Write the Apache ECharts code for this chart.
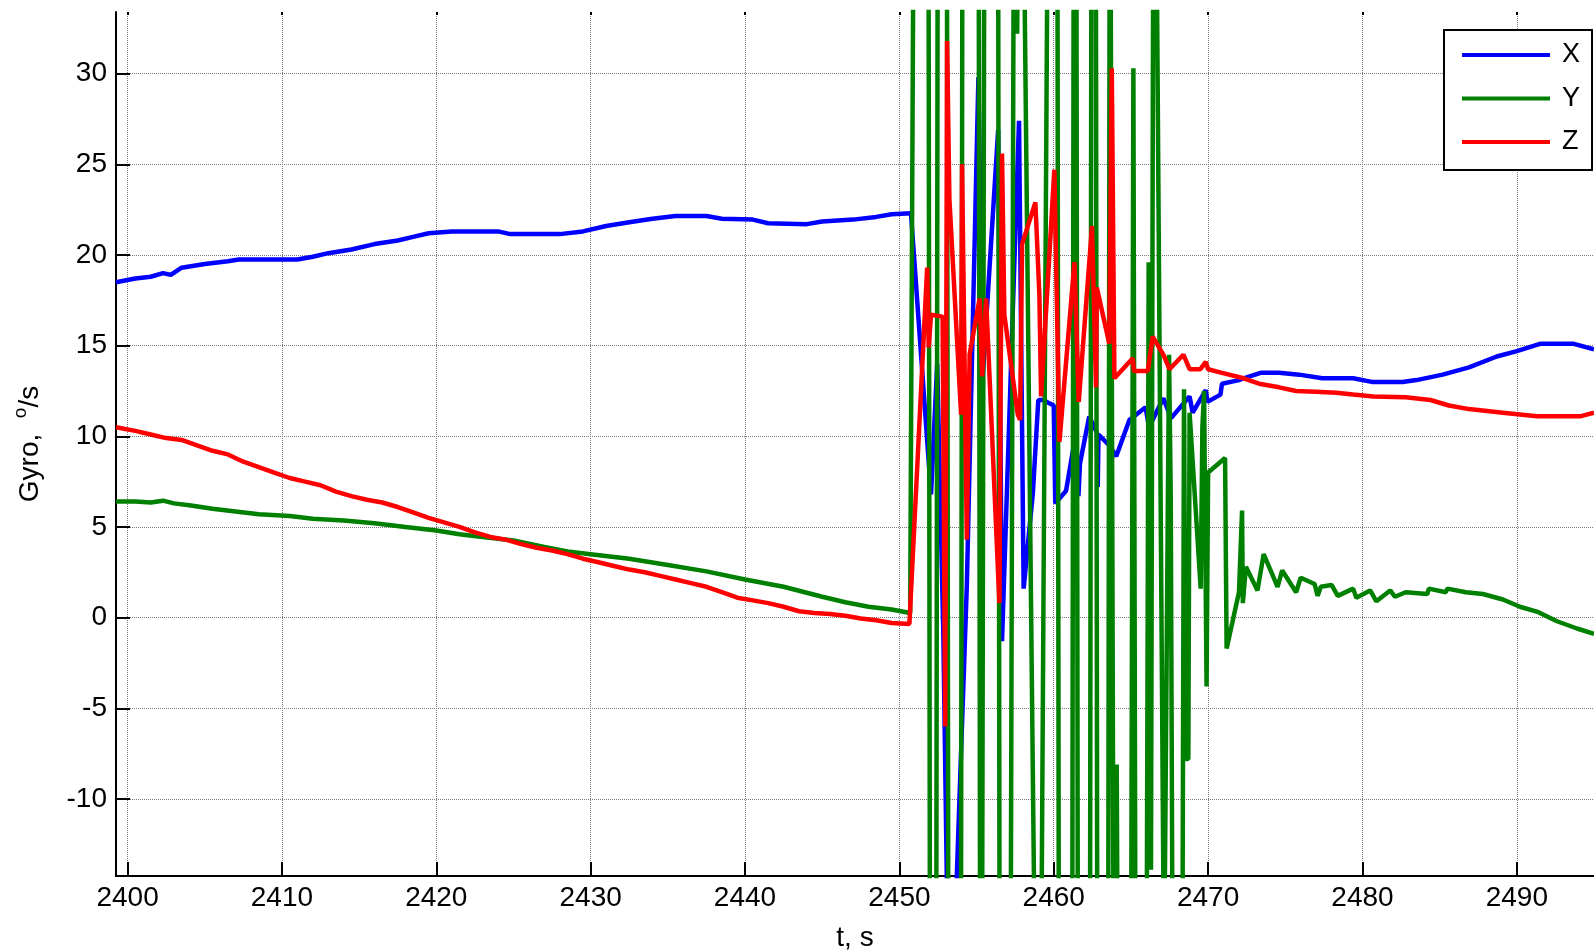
<!DOCTYPE html>
<html>
<head>
<meta charset="utf-8">
<title>Gyro</title>
<script src="https://cdn.jsdelivr.net/npm/echarts@6/dist/echarts.min.js"></script>
<style>
  html, body { margin: 0; padding: 0; background: #fff; }
  #main { width: 1594px; height: 952px; }
</style>
</head>
<body>
<div id="main"></div>
<script>
// tick positions
const xTicks = [2400, 2410, 2420, 2430, 2440, 2450, 2460, 2470, 2480, 2490]
const yTicks = [-10, -5, 0, 5, 10, 15, 20, 25, 30]

// gyro X, [t, deg/s]
const gyroX = [
  [2399.25, 18.5], [2400.5, 18.7], [2401.5, 18.8], [2402.3, 19.0], [2402.8, 18.9], [2403.5, 19.3],
  [2405.0, 19.5], [2406.5, 19.65], [2407.2, 19.75], [2411.0, 19.75], [2412.0, 19.9], [2413.0, 20.1],
  [2414.5, 20.3], [2416.0, 20.6], [2417.5, 20.8], [2418.5, 21.0], [2419.5, 21.2], [2421.0, 21.3],
  [2424.0, 21.3], [2424.8, 21.15], [2428.0, 21.15], [2429.5, 21.3], [2431.0, 21.6], [2432.5, 21.8],
  [2434.0, 22.0], [2435.5, 22.15], [2437.5, 22.15], [2438.5, 22.0], [2440.5, 21.95], [2441.5, 21.75],
  [2444.0, 21.7], [2445.0, 21.85], [2447.0, 21.95], [2448.5, 22.1], [2449.5, 22.25], [2450.75, 22.3],
  [2452.05, 6.8], [2452.45, 14.0], [2452.85, -1.0], [2453.1, -16], [2453.65, -16], [2454.37, 1.8],
  [2455.12, 29.8], [2455.4, 13.3], [2456.4, 26.9], [2456.65, -1.3], [2457.75, 27.4], [2458.05, 1.6],
  [2458.65, 6.9], [2459.0, 12.0], [2459.3, 12.0], [2460.0, 11.7], [2460.1, 6.3], [2460.8, 7.0],
  [2461.3, 9.5], [2461.6, 6.7], [2461.7, 8.5], [2462.3, 11.1], [2462.8, 10.2], [2462.85, 7.2],
  [2462.9, 10.1], [2463.6, 9.5], [2463.7, 8.2], [2463.75, 9.3], [2464.05, 8.9], [2464.9, 10.9],
  [2465.95, 11.6], [2466.17, 10.5], [2467.1, 12.1], [2467.6, 11.0], [2468.8, 12.2], [2469.0, 11.3],
  [2469.85, 12.55], [2469.96, 11.9], [2470.8, 12.3], [2470.9, 12.9], [2472.0, 13.1], [2472.3, 13.2],
  [2473.4, 13.5], [2474.6, 13.5], [2475.9, 13.4], [2477.4, 13.2], [2479.4, 13.2], [2480.6, 13.0],
  [2482.6, 13.0], [2483.5, 13.1], [2485.2, 13.4], [2486.9, 13.8], [2488.7, 14.4], [2490.0, 14.7],
  [2491.5, 15.1], [2493.7, 15.1], [2495.0, 14.8]
]

// gyro Y
const gyroY = [
  [2399.25, 6.4], [2400.5, 6.4], [2401.5, 6.35], [2402.3, 6.45], [2403.0, 6.3], [2404.0, 6.2],
  [2405.5, 6.0], [2407.0, 5.85], [2408.5, 5.7], [2410.5, 5.6], [2412.0, 5.45], [2414.0, 5.35],
  [2416.0, 5.2], [2418.0, 5.0], [2420.0, 4.8], [2421.5, 4.6], [2423.0, 4.45], [2425.0, 4.25],
  [2427.0, 3.9], [2428.5, 3.65], [2430.0, 3.5], [2432.5, 3.25], [2435.0, 2.9], [2437.5, 2.55],
  [2440.0, 2.1], [2442.5, 1.7], [2445.0, 1.15], [2446.5, 0.85], [2448.0, 0.6], [2449.5, 0.45],
  [2450.7, 0.25],
  [2450.98, 50], [2451.87, 50], [2452.03, -50], [2452.34, -50], [2452.5, 50], [2453.06, 50],
  [2453.22, -50], [2453.94, -50], [2454.1, 50], [2455.12, 50], [2455.28, -50], [2455.37, -50],
  [2455.53, 50], [2456.38, 50], [2456.54, -50], [2457.1, -50], [2457.45, 50], [2457.63, 32.2],
  [2457.8, 50], [2457.98, 45], [2458.85, -25], [2459.15, -25], [2459.65, 45], [2460.22, 50],
  [2460.38, -50], [2461.15, -50], [2461.31, 50], [2461.45, 50], [2461.61, -50], [2462.3, -50],
  [2462.46, 50], [2462.71, 50], [2462.87, -50], [2463.48, -50], [2463.64, 50], [2463.76, 50],
  [2463.95, -40], [2464.08, -8.1], [2464.25, -40], [2464.95, -40], [2465.16, 30.3], [2465.35, -40],
  [2465.95, -40], [2466.15, 19.6], [2466.3, -13.9], [2466.48, 50], [2466.6, 45], [2467.15, -20],
  [2467.47, 14.5], [2467.58, 6.7], [2467.75, -30], [2468.3, -30], [2468.44, 12.6], [2468.55, -7.8],
  [2468.72, -7.8], [2468.8, 11.3], [2469.52, 1.6], [2469.63, 10.5], [2469.74, 12.5], [2469.9, -3.8],
  [2470.0, 8.0], [2471.1, 8.8], [2471.2, -1.7], [2472.0, 1.4], [2472.2, 5.9], [2472.25, 0.8],
  [2472.45, 2.8], [2473.2, 1.5], [2473.6, 3.5], [2474.5, 1.7], [2474.8, 2.6], [2475.7, 1.4],
  [2476.0, 2.2], [2476.9, 1.85], [2477.1, 1.2], [2477.3, 1.7], [2478.0, 1.8], [2478.4, 1.2],
  [2479.4, 1.6], [2479.6, 1.1], [2480.5, 1.5], [2480.9, 0.9], [2481.8, 1.5], [2482.1, 1.15],
  [2482.8, 1.4], [2484.2, 1.3], [2484.3, 1.6], [2485.4, 1.4], [2485.5, 1.6], [2486.7, 1.4],
  [2487.8, 1.3], [2489.1, 1.0], [2490.2, 0.6], [2491.4, 0.3], [2492.6, -0.2], [2493.9, -0.6],
  [2495.0, -0.9]
]

// gyro Z
const gyroZ = [
  [2399.25, 10.5], [2400.5, 10.3], [2401.5, 10.1], [2402.5, 9.9], [2403.5, 9.8], [2404.5, 9.5],
  [2405.5, 9.2], [2406.5, 9.0], [2407.5, 8.6], [2408.5, 8.3], [2409.5, 8.0], [2410.5, 7.7],
  [2411.5, 7.5], [2412.5, 7.3], [2413.5, 6.95], [2414.5, 6.7], [2415.5, 6.5], [2416.5, 6.35],
  [2417.5, 6.1], [2418.5, 5.8], [2419.5, 5.5], [2420.5, 5.25], [2421.5, 5.0], [2422.5, 4.7],
  [2423.5, 4.45], [2424.5, 4.3], [2425.5, 4.05], [2426.5, 3.85], [2427.5, 3.7], [2428.5, 3.5],
  [2429.5, 3.25], [2430.5, 3.05], [2431.5, 2.85], [2432.5, 2.65], [2433.5, 2.5], [2434.5, 2.3],
  [2435.5, 2.1], [2436.5, 1.9], [2437.5, 1.7], [2438.5, 1.4], [2439.5, 1.1], [2440.5, 0.95],
  [2441.5, 0.8], [2442.5, 0.6], [2443.5, 0.35], [2444.5, 0.25], [2445.5, 0.2], [2446.5, 0.1],
  [2447.5, -0.05], [2448.5, -0.15], [2449.5, -0.3], [2450.65, -0.35],
  [2451.8, 19.3], [2451.9, 14.9], [2452.05, 16.7], [2452.8, 16.6], [2452.97, -6.0], [2453.09, 31.8],
  [2453.24, 23.1], [2454.0, 11.2], [2454.06, 25.0], [2454.37, 4.3], [2454.55, 14.5], [2455.2, 17.6],
  [2455.36, 13.3], [2455.62, 17.6], [2456.48, 0.8], [2456.65, 25.6], [2456.8, 16.7], [2457.67, 11.2],
  [2457.82, 10.9], [2457.95, 20.6], [2458.81, 22.9], [2459.07, 17.8], [2459.18, 12.2], [2460.04, 24.7],
  [2460.37, 9.7], [2461.34, 19.6], [2461.62, 11.9], [2462.48, 21.6], [2462.74, 12.7], [2462.79, 18.2],
  [2463.6, 15.1], [2463.76, 30.3], [2463.93, 13.2], [2465.12, 14.3], [2465.2, 13.6], [2466.09, 13.6],
  [2466.41, 15.5], [2467.1, 14.5], [2467.5, 13.7], [2468.4, 14.5], [2468.8, 13.7], [2469.5, 13.7],
  [2469.85, 14.1], [2470.0, 13.7], [2470.9, 13.5], [2472.3, 13.2], [2473.3, 12.9], [2474.6, 12.7],
  [2475.7, 12.5], [2477.0, 12.45], [2478.3, 12.4], [2479.4, 12.3], [2480.7, 12.2], [2482.8, 12.15],
  [2484.4, 12.0], [2485.6, 11.7], [2486.9, 11.5], [2489.1, 11.3], [2491.3, 11.1], [2494.1, 11.1],
  [2495.0, 11.3]
]

const font = 'Liberation Sans, Arial, Helvetica, sans-serif'
const xMin = 2399.25, xMax = 2495
const yMin = -14.25, yMax = 33.4

const gridLine = { show: true, lineStyle: { type: 'dotted', color: '#7a7a7a', width: 1 } }

function lineSeries(name, data, color) {
  return {
    name: name,
    type: 'line',
    data: data,
    showSymbol: false,
    clip: true,
    lineStyle: { color: color, width: 4.5 },
    itemStyle: { color: color }
  }
}

const myChart = echarts.init(document.getElementById('main'))
myChart.setOption({
  animation: false,
  backgroundColor: '#fff',
  grid: { left: 116, top: 12, right: 0, bottom: 76, outerBoundsMode: 'none' },
  legend: {
    orient: 'vertical',
    left: 1444,
    top: 30,
    padding: [10, 12, 13, 18],
    itemWidth: 88,
    itemHeight: 4,
    itemGap: 13.5,
    icon: 'rect',
    borderColor: '#000',
    borderWidth: 2,
    backgroundColor: '#fff',
    textStyle: { fontSize: 27, color: '#000', fontFamily: font, lineHeight: 30, padding: [0, 0, 0, 7] },
    data: ['X', 'Y', 'Z']
  },
  xAxis: [{
    type: 'value',
    min: xMin,
    max: xMax,
    position: 'bottom',
    axisLine: { onZero: false, lineStyle: { color: '#000', width: 2 } },
    axisTick: { inside: true, length: 14, customValues: xTicks, lineStyle: { color: '#000', width: 2 } },
    axisLabel: {
      customValues: xTicks, fontSize: 28, color: '#000', fontFamily: font, margin: 8,
      formatter: v => String(v)
    },
    splitLine: gridLine,
    name: 't, s',
    nameLocation: 'middle',
    nameGap: 48,
    nameTextStyle: { fontSize: 28, color: '#000', fontFamily: font }
  }, {
    type: 'value',
    min: xMin,
    max: xMax,
    position: 'top',
    axisLine: { show: false, onZero: false },
    axisTick: { inside: true, length: 3, customValues: xTicks, lineStyle: { color: '#000', width: 2 } },
    axisLabel: { show: false },
    splitLine: { show: false }
  }],
  yAxis: {
    type: 'value',
    min: yMin,
    max: yMax,
    axisLine: { show: true, onZero: false, lineStyle: { color: '#000', width: 2 } },
    axisTick: { show: true, inside: true, length: 14, customValues: yTicks, lineStyle: { color: '#000', width: 2 } },
    axisLabel: { customValues: yTicks, fontSize: 28, color: '#000', fontFamily: font, margin: 9 },
    splitLine: gridLine,
    name: '{a|Gyro,  }{s|o}{a|/s}',
    nameLocation: 'middle',
    nameRotate: 90,
    nameGap: 66,
    nameTextStyle: {
      rich: {
        a: { fontSize: 28, color: '#000', fontFamily: font },
        s: { fontSize: 19, color: '#000', fontFamily: font, padding: [0, 0, 20, 0] }
      }
    }
  },
  series: [
    lineSeries('X', gyroX, '#0000ff'),
    lineSeries('Y', gyroY, '#008000'),
    lineSeries('Z', gyroZ, '#ff0000')
  ]
})
</script>
</body>
</html>
